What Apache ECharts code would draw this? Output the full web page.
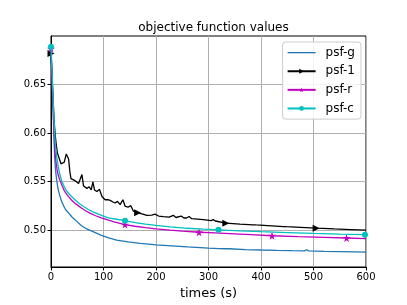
<!DOCTYPE html>
<html>
<head>
<meta charset="utf-8">
<script src="https://cdn.jsdelivr.net/npm/echarts@6/dist/echarts.min.js"></script>
<style>html,body{margin:0;padding:0;background:#fff;}#c{width:407px;height:305px;}</style>
</head>
<body>
<div id="c"></div>
<script>
const seriesNames = ['psf-g', 'psf-1', 'psf-r', 'psf-c'];
const xTicks = [0, 100, 200, 300, 400, 500, 600];
const yTicks = [0.50, 0.55, 0.60, 0.65];

const gT = [0,1,2,3,4,5,6,7,8,10,12,14,17,20,24,28,33,40,48,58,68,80,96,110,125,147,170,200,230,260,300,320,333,336,340,370,400,430,460,483,487,491,520,550,580,600];
const gV = [0.686,0.672,0.656,0.640,0.624,0.607,0.590,0.576,0.566,0.555,0.547,0.541,0.535,0.530,0.525,0.521,0.518,0.5135,0.5095,0.5045,0.5012,0.4985,0.4945,0.4920,0.4898,0.4878,0.4863,0.4849,0.4838,0.4827,0.4815,0.4810,0.4808,0.4816,0.4808,0.4800,0.4795,0.4791,0.4788,0.4786,0.4798,0.4786,0.4782,0.4779,0.4776,0.4774];
const gMarks = [];

const oT = [0,2,4,6,8,10,12,14,15,16.4,19,22.8,25.3,27,29.1,31,33.5,36,38,42,46.2,49,52.5,55,58.9,62,65,68.4,72.8,76.6,79.8,82.9,87.5,92.4,97,103,108,112.7,118,122,126.6,131.7,136.9,141.3,147.5,152,157,165,175,182.5,192,198,205,214,225,233,238,248,253,258,263,268,290,305,309,313,333,360,385,388,391,420,443,446,449,475,505,540,570,600];
const oV = [0.682,0.658,0.634,0.612,0.598,0.588,0.580,0.5765,0.5775,0.5768,0.5683,0.5667,0.570,0.574,0.5784,0.577,0.5733,0.560,0.5531,0.552,0.5508,0.549,0.5481,0.549,0.5572,0.5455,0.5445,0.543,0.5447,0.5414,0.5498,0.5414,0.5397,0.542,0.5346,0.5313,0.5315,0.5306,0.529,0.5279,0.5296,0.5263,0.5313,0.5245,0.5238,0.5252,0.5195,0.5178,0.5165,0.5151,0.5155,0.5165,0.5145,0.5138,0.5133,0.5152,0.5130,0.5145,0.5125,0.5125,0.5140,0.5118,0.5108,0.5098,0.5108,0.5094,0.5072,0.5062,0.5055,0.5063,0.5053,0.5044,0.5037,0.5045,0.5035,0.5029,0.5020,0.5012,0.5006,0.5000];
const oMarks = [0, 165, 333, 505];

const rT = [0,1,2,3,4,5,6,7,8,10,12,14,17,21,25,29,33,39,45,51,58,66,75,85,96,108,120,141,160,180,200,227,250,282,312,350,380,421,470,520,563,600];
const rV = [0.687,0.673,0.658,0.643,0.628,0.613,0.599,0.587,0.578,0.568,0.561,0.556,0.5515,0.546,0.541,0.5375,0.5347,0.531,0.528,0.5255,0.5228,0.520,0.5172,0.5148,0.5127,0.5105,0.5085,0.5057,0.5040,0.5025,0.5013,0.5000,0.4990,0.4978,0.4971,0.4961,0.4953,0.4942,0.4932,0.4925,0.4919,0.4912];
const rMarks = [0, 141, 282, 421, 563];

const cT = [0,1,2,3,4,5,6,7,8,9,11,14,17,20,25,30,39,47,55,63,71,80,90,100,109,125,141,160,180,200,227,260,290,319,360,400,450,500,550,598,600];
const cV = [0.689,0.677,0.664,0.650,0.637,0.624,0.611,0.600,0.591,0.585,0.575,0.565,0.557,0.5515,0.545,0.540,0.5347,0.5305,0.527,0.524,0.5212,0.5188,0.5165,0.5145,0.5127,0.5112,0.5097,0.5078,0.5062,0.5048,0.5033,0.5019,0.5010,0.5003,0.4993,0.4984,0.4975,0.4966,0.4959,0.4953,0.4953];
const cMarks = [0, 141, 319, 598];

function build(T, V, marks) {
  return T.map((t, i) => marks.indexOf(t) >= 0 ? { value: [t, V[i]] } : { value: [t, V[i]], symbol: 'none' });
}

const STAR = 'path://M50,0 L61,35 L98,35 L68,57 L79,91 L50,70 L21,91 L32,57 L2,35 L39,35 Z';
const FONT = 'DejaVu Sans';

const chart = echarts.init(document.getElementById('c'), null, { renderer: 'canvas' });
chart.setOption({
  animation: false,
  backgroundColor: '#fff',
  textStyle: { fontFamily: FONT, color: '#000' },
  title: {
    text: 'objective function values',
    left: 208.5, top: 17, textAlign: 'center',
    textStyle: { fontFamily: FONT, fontSize: 12, fontWeight: 'normal', color: '#000' }
  },
  grid: { left: 51, right: 41, top: 36, bottom: 33, show: true, borderColor: '#000', borderWidth: 1, containLabel: false },
  legend: {
    data: [
      { name: 'psf-g', icon: 'path://M0,0 L28,0 L28,1.3 L0,1.3 Z' },
      { name: 'psf-1' }, { name: 'psf-r' }, { name: 'psf-c' }
    ],
    orient: 'vertical', right: 46, top: 42,
    itemWidth: 28, itemHeight: 6, itemGap: 4.3,
    symbolKeepAspect: true,
    padding: [3.5, 6, 3.5, 4],
    borderColor: '#cccccc', borderWidth: 1, borderRadius: 3,
    backgroundColor: 'rgba(255,255,255,0.85)',
    textStyle: { fontFamily: FONT, fontSize: 12, color: '#000', padding: [0, 0, 0, 5], lineHeight: 14.3 }
  },
  xAxis: {
    type: 'value', min: 0, max: 600, interval: 100,
    name: 'times (s)', nameLocation: 'middle', nameGap: 20,
    nameTextStyle: { fontFamily: FONT, fontSize: 13, color: '#000' },
    axisLine: { show: true, onZero: false, lineStyle: { color: '#000', width: 1 } },
    axisTick: { show: true, inside: false, length: 3.5, lineStyle: { color: '#000' } },
    axisLabel: { fontFamily: FONT, fontSize: 10, color: '#000', margin: 5, customValues: xTicks },
    splitLine: { show: true, lineStyle: { color: '#b0b0b0', width: 1 } }
  },
  yAxis: {
    type: 'value', min: 0.462, max: 0.700,
    axisLine: { show: true, onZero: false, lineStyle: { color: '#000', width: 1 } },
    axisTick: { show: true, inside: false, length: 3.5, lineStyle: { color: '#000' }, customValues: yTicks },
    axisLabel: { fontFamily: FONT, fontSize: 10, color: '#000', margin: 5, customValues: yTicks, formatter: v => v.toFixed(2) },
    splitLine: { show: true, lineStyle: { color: '#b0b0b0', width: 1 } }
  },
  series: [
    { name: 'psf-g', type: 'line', data: build(gT, gV, gMarks), symbol: 'none', showSymbol: false,
      color: '#1f77b4', lineStyle: { color: '#1f77b4', width: 1.3 }, clip: true, z: 2 },
    { name: 'psf-1', type: 'line', data: build(oT, oV, oMarks), symbol: 'triangle', symbolRotate: -90, symbolSize: 7,
      showSymbol: true, showAllSymbol: true, color: '#000000', itemStyle: { color: '#000000' },
      lineStyle: { color: '#000000', width: 1.3 }, clip: true, z: 3 },
    { name: 'psf-r', type: 'line', data: build(rT, rV, rMarks), symbol: STAR, symbolSize: 8,
      showSymbol: true, showAllSymbol: true, color: '#bf00bf', itemStyle: { color: '#bf00bf' },
      lineStyle: { color: '#bf00bf', width: 1.3 }, clip: true, z: 4 },
    { name: 'psf-c', type: 'line', data: build(cT, cV, cMarks), symbol: 'circle', symbolSize: 6,
      showSymbol: true, showAllSymbol: true, color: '#00bfbf', itemStyle: { color: '#00bfbf' },
      lineStyle: { color: '#00bfbf', width: 1.3 }, clip: true, z: 5 }
  ]
});
</script>
</body>
</html>
